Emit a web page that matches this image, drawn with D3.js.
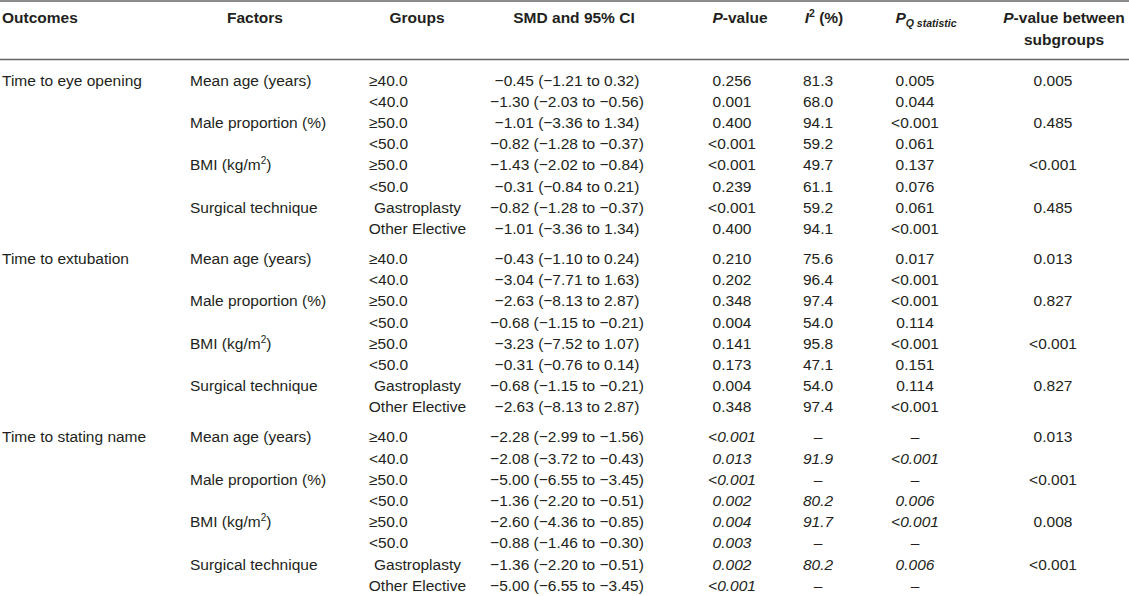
<!DOCTYPE html>
<html>
<head>
<meta charset="utf-8">
<script src="https://cdn.jsdelivr.net/npm/d3@7"></script>
<style>
  body { margin: 0; background: #fff; }
  svg text { font-family: "Liberation Sans", Arial, Helvetica, sans-serif; font-size: 15.5px; fill: #231f20; }
</style>
</head>
<body>
<div id="table"></div>
<script>
// table content
const outcomes = ["Time to eye opening", "Time to extubation", "Time to stating name"];
const factors = ["Mean age (years)", "Male proportion (%)", "BMI (kg/m", "Surgical technique"];
const groups = [["≥40.0", "<40.0"], ["≥50.0", "<50.0"], ["≥50.0", "<50.0"], ["Gastroplasty", "Other Elective"]];

const smd = [
    "−0.45 (−1.21 to 0.32)", "−1.30 (−2.03 to −0.56)", "−1.01 (−3.36 to 1.34)", "−0.82 (−1.28 to −0.37)",
    "−1.43 (−2.02 to −0.84)", "−0.31 (−0.84 to 0.21)", "−0.82 (−1.28 to −0.37)", "−1.01 (−3.36 to 1.34)",
    "−0.43 (−1.10 to 0.24)", "−3.04 (−7.71 to 1.63)", "−2.63 (−8.13 to 2.87)", "−0.68 (−1.15 to −0.21)",
    "−3.23 (−7.52 to 1.07)", "−0.31 (−0.76 to 0.14)", "−0.68 (−1.15 to −0.21)", "−2.63 (−8.13 to 2.87)",
    "−2.28 (−2.99 to −1.56)", "−2.08 (−3.72 to −0.43)", "−5.00 (−6.55 to −3.45)", "−1.36 (−2.20 to −0.51)",
    "−2.60 (−4.36 to −0.85)", "−0.88 (−1.46 to −0.30)", "−1.36 (−2.20 to −0.51)", "−5.00 (−6.55 to −3.45)"
];
const pValue = [
    "0.256", "0.001", "0.400", "<0.001", "<0.001", "0.239", "<0.001", "0.400",
    "0.210", "0.202", "0.348", "0.004", "0.141", "0.173", "0.004", "0.348",
    "<0.001", "0.013", "<0.001", "0.002", "0.004", "0.003", "0.002", "<0.001"
];
const iSquared = [
    "81.3", "68.0", "94.1", "59.2", "49.7", "61.1", "59.2", "94.1",
    "75.6", "96.4", "97.4", "54.0", "95.8", "47.1", "54.0", "97.4",
    "–", "91.9", "–", "80.2", "91.7", "–", "80.2", "–"
];
const pQ = [
    "0.005", "0.044", "<0.001", "0.061", "0.137", "0.076", "0.061", "<0.001",
    "0.017", "<0.001", "<0.001", "0.114", "<0.001", "0.151", "0.114", "<0.001",
    "–", "<0.001", "–", "0.006", "<0.001", "–", "0.006", "–"
];
const pBetween = [
    "0.005", "0.485", "<0.001", "0.485",
    "0.013", "0.827", "<0.001", "0.827",
    "0.013", "<0.001", "0.008", "<0.001"
];

const width = 1129, height = 596;
const rowStep = 21.2;      // spacing of rows inside one outcome block
const blockStep = 178.4;   // 7 rows + the wider gap between blocks
const base = 5.5;          // text centre -> baseline

// column anchors (body)
const col = d3.scaleOrdinal()
    .domain(["outcome", "factor", "group", "smd", "p", "i2", "pq", "between"])
    .range([2, 190, 369, 567, 732, 818, 915, 1053]);

// vertical position: block by outcome, then row inside block
const blockY = d3.scalePoint().domain(outcomes).range([80, 80 + 2 * blockStep]);
const rowY = d3.scaleLinear().domain([0, 1]).range([0, rowStep]);

const svg = d3.select("#table")
    .append("svg")
    .attr("width", width)
    .attr("height", height);

// rules
svg.selectAll(".rule")
    .data([1, 59.5])
    .enter()
    .append("line")
    .attr("class", "rule")
    .attr("x1", 0).attr("x2", width)
    .attr("y1", d => d).attr("y2", d => d)
    .attr("stroke", "#666")
    .attr("stroke-width", 1.6);

/////////////////////////////////////////////////////////
/////////////////////// Header //////////////////////////
/////////////////////////////////////////////////////////

const head = svg.append("g").attr("font-weight", "bold");
const hy = 23;

head.append("text").attr("x", col("outcome")).attr("y", hy).text("Outcomes");
head.append("text").attr("x", 255).attr("y", hy).attr("text-anchor", "middle").text("Factors");
head.append("text").attr("x", 417).attr("y", hy).attr("text-anchor", "middle").text("Groups");
head.append("text").attr("x", 574).attr("y", hy).attr("text-anchor", "middle").text("SMD and 95% CI");

let t = head.append("text").attr("x", 740).attr("y", hy).attr("text-anchor", "middle");
t.append("tspan").attr("font-style", "italic").text("P");
t.append("tspan").text("-value");

t = head.append("text").attr("x", 824).attr("y", hy).attr("text-anchor", "middle");
t.append("tspan").attr("font-style", "italic").text("I");
t.append("tspan").attr("font-size", "10.5px").attr("dy", -6).text("2");
t.append("tspan").attr("dy", 6).text(" (%)");

t = head.append("text").attr("x", 926).attr("y", hy).attr("text-anchor", "middle").attr("font-style", "italic");
t.append("tspan").text("P");
t.append("tspan").attr("font-size", "10.5px").attr("dy", 4).text("Q statistic");

t = head.append("text").attr("x", 1064).attr("y", hy).attr("text-anchor", "middle");
t.append("tspan").attr("font-style", "italic").text("P");
t.append("tspan").text("-value between");
head.append("text").attr("x", 1064).attr("y", 45).attr("text-anchor", "middle").text("subgroups");

/////////////////////////////////////////////////////////
//////////////////////// Body ///////////////////////////
/////////////////////////////////////////////////////////

// flatten into one record per row
const rows = [];
outcomes.forEach((o, oi) => {
    factors.forEach((f, fi) => {
        groups[fi].forEach((g, gi) => {
            const k = oi * 8 + fi * 2 + gi;
            rows.push({
                outcome: gi === 0 && fi === 0 ? o : "",
                factor: gi === 0 ? f : "",
                sup: gi === 0 && f.endsWith("m"),
                group: g,
                surgical: fi === 3,
                smd: smd[k],
                p: pValue[k],
                i2: iSquared[k],
                pq: pQ[k],
                between: gi === 0 ? pBetween[oi * 4 + fi] : "",
                italic: oi === 2,
                y: blockY(o) + rowY(fi * 2 + gi)
            });
        });
    });
});

const row = svg.selectAll(".row")
    .data(rows)
    .enter()
    .append("g")
    .attr("class", "row")
    .attr("transform", d => "translate(0," + (d.y + base) + ")");

row.append("text").attr("x", col("outcome")).text(d => d.outcome);

const fac = row.append("text").attr("x", col("factor"));
fac.append("tspan").text(d => d.factor);
fac.filter(d => d.sup).append("tspan").attr("font-size", "10px").attr("dy", -6).text("2");
fac.filter(d => d.sup).append("tspan").attr("dy", 6).text(")");

row.append("text")
    .attr("x", d => d.surgical ? col("group") + 48.5 : col("group"))
    .attr("text-anchor", d => d.surgical ? "middle" : "start")
    .text(d => d.group);

row.append("text").attr("x", col("smd")).attr("text-anchor", "middle").text(d => d.smd);

["p", "i2", "pq"].forEach(key => {
    row.append("text")
        .attr("x", col(key))
        .attr("text-anchor", "middle")
        .attr("font-style", d => d.italic ? "italic" : null)
        .text(d => d[key]);
});

row.append("text").attr("x", col("between")).attr("text-anchor", "middle").text(d => d.between);
</script>
</body>
</html>
